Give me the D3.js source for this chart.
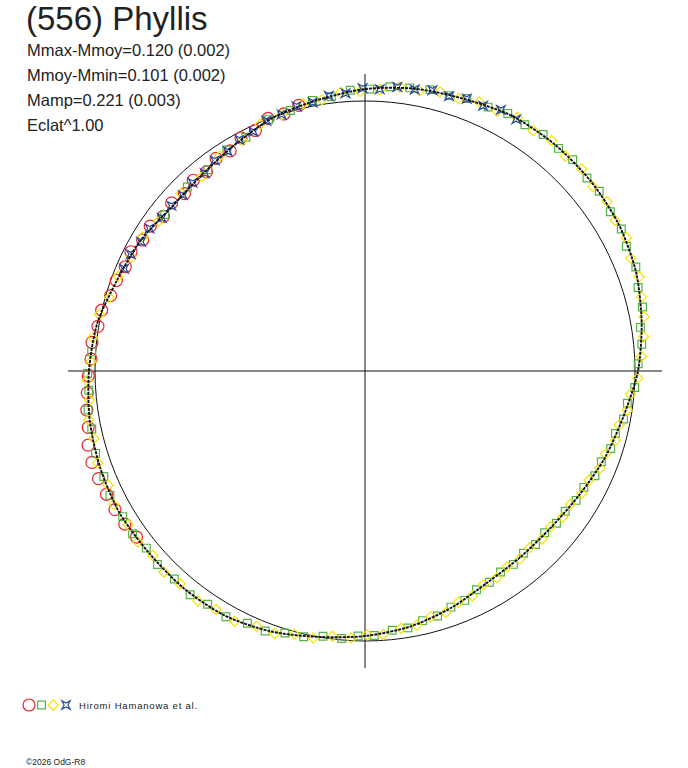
<!DOCTYPE html>
<html>
<head>
<meta charset="utf-8">
<script src="https://cdn.jsdelivr.net/npm/d3@7"></script>
<style>
  body { margin: 0; background: #fff; }
  svg { display: block; }
</style>
</head>
<body>
<svg id="drawing_region"></svg>
<script>
// texts
const titleText = "(556) Phyllis";
const infoLines = ["Mmax-Mmoy=0.120 (0.002)", "Mmoy-Mmin=0.101 (0.002)", "Mamp=0.221 (0.003)", "Eclat^1.00"];
const observerText = "Hiromi Hamanowa et al.";
const creditText = "\u00A92026 OdG-R8";

// fitted lightcurve, phase in degrees, magnitude relative to mean
const fitPhase = [0, 10, 20, 30, 40, 50, 60, 70, 80, 90, 100, 110, 120, 130, 140, 150, 160, 170,
                  180, 190, 200, 210, 220, 230, 240, 250, 260, 270, 280, 290, 300, 310, 320, 330, 340, 350];
const fitMag = [-0.012, -0.043, -0.072, -0.089, -0.096, -0.098, -0.094, -0.076, -0.065, -0.047, -0.020, 0.002,
                0.037, 0.062, 0.068, 0.042, 0.024, -0.008, -0.024, -0.038, -0.047, -0.053, -0.049, -0.051,
                -0.047, -0.028, 0.000, 0.020, 0.043, 0.075, 0.108, 0.117, 0.114, 0.094, 0.062, 0.031];

// observations [phase deg, relative mag]
const redObs = [
  [104, -0.015], [107.5, 0.002], [111, -0.002], [114.5, 0.023], [118, 0.024], [121.5, 0.049], [125, 0.043],
  [128.5, 0.064], [132, 0.055], [135.5, 0.070], [139, 0.057], [142.5, 0.066], [146, 0.045], [149.5, 0.049],
  [153, 0.030], [156.5, 0.035], [160, 0.022], [163.5, 0.019], [167, -0.001], [170.5, -0.003], [174, -0.018],
  [177.5, -0.017], [181, -0.027], [184.5, -0.034], [188, -0.043], [191.5, -0.049], [195, -0.065],
  [198.5, -0.070], [202, -0.068], [205.5, -0.064], [209, -0.062], [212.5, -0.058], [216, -0.049]
];
const greenObs = [
  [1.5, -0.013], [5.5, -0.032], [9, -0.035], [13, -0.058], [17, -0.061], [21, -0.078], [25.5, -0.076],
  [29, -0.089], [33, -0.087], [37.5, -0.097], [41, -0.093], [45.5, -0.101], [49, -0.096], [53, -0.100],
  [57, -0.091], [61, -0.094], [65, -0.082], [69.5, -0.081], [73, -0.070], [77, -0.073], [81, -0.065],
  [85, -0.060], [89, -0.047], [93, -0.044], [97, -0.025], [101, -0.022], [106, -0.004], [111, 0.003],
  [117, 0.031], [122, 0.038], [128, 0.060], [134, 0.059], [142, 0.066],
  [176, -0.016], [180.5, -0.029], [184, -0.027], [188, -0.038], [192, -0.037], [197, -0.046], [202, -0.046],
  [206, -0.054], [211, -0.050], [215, -0.054], [219, -0.045], [223, -0.054], [227.5, -0.048], [232, -0.055],
  [236, -0.045], [240.5, -0.049], [245, -0.033], [249, -0.034], [253, -0.016], [257, -0.011], [261, 0.006],
  [265, 0.006], [268.5, 0.020], [272, 0.022], [276, 0.038], [279.5, 0.039], [283, 0.057], [286.5, 0.060],
  [290, 0.078], [293.5, 0.083], [297, 0.103], [300.5, 0.105], [304, 0.117], [307.5, 0.111], [311, 0.121],
  [314.5, 0.113], [318, 0.120], [321.5, 0.107], [325, 0.108], [328.5, 0.094], [332, 0.093], [335.5, 0.072],
  [339, 0.070], [342.5, 0.051], [346, 0.049], [349.5, 0.029], [353, 0.023], [356.5, -0.001]
];
const yellowObs = [
  [3, -0.027], [7, -0.042], [11, -0.056], [15, -0.064], [19, -0.077], [23, -0.073], [27, -0.090], [31, -0.085],
  [35, -0.098], [39, -0.089], [43, -0.101], [47, -0.092], [51, -0.102], [55, -0.090], [59, -0.099], [63, -0.083],
  [67, -0.086], [71, -0.070], [75, -0.074], [79, -0.060], [83, -0.063], [87, -0.047], [91, -0.038], [95, -0.038],
  [99, -0.018], [103, -0.018], [108, 0.002], [113, 0.008], [118, 0.036], [124, 0.043], [130, 0.067], [136, 0.060],
  [144, 0.062], [149, 0.042], [154, 0.040], [159, 0.023], [164, 0.016], [168, -0.006], [173, -0.017],
  [178, -0.016], [182, -0.032], [186, -0.028], [190, -0.042], [194, -0.037], [199, -0.050], [204, -0.044],
  [208, -0.057], [213, -0.048], [217, -0.056], [221, -0.044], [225, -0.056], [229, -0.047], [234, -0.056],
  [238, -0.044], [242.5, -0.048], [247, -0.029], [251, -0.030], [255, -0.010], [259, -0.008], [263, 0.011],
  [267, 0.010], [270.5, 0.025], [274, 0.024], [278, 0.042], [281.5, 0.043], [285, 0.064], [288.5, 0.064],
  [292, 0.086], [295.5, 0.087], [299, 0.109], [302.5, 0.105], [306, 0.119], [309.5, 0.112], [313, 0.121],
  [316.5, 0.109], [320, 0.118], [323.5, 0.102], [327, 0.106], [330.5, 0.088], [334, 0.087], [337.5, 0.065],
  [341, 0.064], [344.5, 0.042], [348, 0.042], [351.5, 0.020], [355, 0.014], [358.5, -0.011]
];
const blueObs = [
  [59, -0.091], [62.5, -0.094], [66, -0.079], [69.5, -0.080], [73, -0.068], [76.5, -0.073], [80, -0.062],
  [83.5, -0.062], [87, -0.048], [90.5, -0.050], [94, -0.033], [97.5, -0.030], [101, -0.014], [104.5, -0.014],
  [108, 0.001], [111.5, 0.004], [115, 0.024], [118.5, 0.028], [122, 0.045], [125.5, 0.047], [129, 0.064],
  [132.5, 0.061], [136, 0.070], [139.5, 0.064], [143, 0.064], [146.5, 0.048], [150, 0.047], [153.5, 0.034],
  [157, 0.034]
];

class PolarLightCurve {

  constructor(config) {
    this.config = {
      parent: config.parent,
      width: config.width || 688,
      height: config.height || 768,
      cx: config.cx,
      cy: config.cy,
      radius: config.radius
    };
    this.init();
  }

  init() {
    let self = this;

    self.svg = d3.select(self.config.parent)
      .attr('width', self.config.width)
      .attr('height', self.config.height);

    self.chart = self.svg.append('g')
      .attr('transform', `translate(${self.config.cx}, ${self.config.cy})`);

    // phase (deg) -> angle (rad), counter-clockwise from the right
    self.angle = d3.scaleLinear().domain([0, 360]).range([0, 2 * Math.PI]);
    // relative flux -> radius, the mean brightness lies on the reference circle
    self.rscale = d3.scaleLinear().domain([0, 1]).range([0, self.config.radius]);
    self.flux = m => Math.pow(10, -0.4 * m);

    self.px = (p, m) => self.rscale(self.flux(m)) * Math.cos(self.angle(p));
    self.py = (p, m) => -self.rscale(self.flux(m)) * Math.sin(self.angle(p));
  }

  render() {
    let self = this;
    const axisLen = self.rscale(1.1);

    // axes
    self.chart.append('line')
      .attr('x1', -axisLen).attr('x2', axisLen).attr('y1', 0).attr('y2', 0)
      .attr('stroke', '#111').attr('stroke-width', 1);
    self.chart.append('line')
      .attr('x1', 0).attr('x2', 0).attr('y1', -axisLen).attr('y2', axisLen)
      .attr('stroke', '#111').attr('stroke-width', 1);

    // reference circle (mean magnitude)
    self.chart.append('circle')
      .attr('r', self.rscale(1))
      .attr('fill', 'none')
      .attr('stroke', '#111')
      .attr('stroke-width', 1);

    const star = s => {
      const p = d3.path();
      p.moveTo(-s, -s); p.lineTo(0, -s * 0.45); p.lineTo(s, -s); p.lineTo(s * 0.45, 0);
      p.lineTo(s, s); p.lineTo(0, s * 0.45); p.lineTo(-s, s); p.lineTo(-s * 0.45, 0);
      p.closePath();
      return p.toString();
    };

    const series = [
      { data: redObs, color: '#e8262e', shape: d3.symbol(d3.symbolCircle, 113)(), rot: 0 },
      { data: greenObs, color: '#55b444', shape: d3.symbol(d3.symbolSquare, 60)(), rot: 0 },
      { data: yellowObs, color: '#f5e400', shape: d3.symbol(d3.symbolSquare, 52)(), rot: 45 },
      { data: blueObs, color: '#2a48a0', shape: star(4.2), rot: 0 }
    ];

    series.forEach(s => {
      self.chart.append('g')
        .selectAll('path')
        .data(s.data)
        .enter()
        .append('path')
        .attr('d', s.shape)
        .attr('transform', d => `translate(${self.px(d[0], d[1])},${self.py(d[0], d[1])}) rotate(${s.rot})`)
        .attr('fill', 'none')
        .attr('stroke', s.color)
        .attr('stroke-width', 1.2);
    });

    // fitted curve
    const fit = fitPhase.map((p, i) => [p, fitMag[i]]);
    const line = d3.lineRadial()
      .angle(d => Math.PI / 2 - self.angle(d[0]))
      .radius(d => self.rscale(self.flux(d[1])))
      .curve(d3.curveCardinalClosed.tension(0.2));
    self.chart.append('path')
      .datum(fit)
      .attr('d', line)
      .attr('fill', 'none')
      .attr('stroke', '#111')
      .attr('stroke-width', 1.9)
      .attr('stroke-dasharray', '3,1');

    // texts
    const font = '"Liberation Sans", Arial, sans-serif';
    self.svg.append('text')
      .attr('x', 26).attr('y', 29.5)
      .attr('font-family', font).attr('font-size', 33)
      .attr('fill', '#222')
      .text(titleText);

    self.svg.selectAll('.info')
      .data(infoLines)
      .enter()
      .append('text')
      .attr('class', 'info')
      .attr('x', 27)
      .attr('y', (d, i) => 56 + i * 25)
      .attr('font-family', font).attr('font-size', 16.5)
      .attr('fill', '#222')
      .text(d => d);

    // legend
    const legend = self.svg.append('g').attr('transform', 'translate(0, 705)');
    const legendX = [29, 41.5, 53.3, 66];
    series.forEach((s, i) => {
      legend.append('path')
        .attr('d', s.shape)
        .attr('transform', `translate(${legendX[i]},0) rotate(${s.rot})`)
        .attr('fill', 'none')
        .attr('stroke', s.color)
        .attr('stroke-width', 1.2);
    });
    legend.append('text')
      .attr('x', 79).attr('y', 3.8)
      .attr('font-family', font).attr('font-size', 9.5)
      .attr('letter-spacing', 0.8)
      .attr('fill', '#222')
      .text(observerText);

    self.svg.append('text')
      .attr('x', 26).attr('y', 765)
      .attr('font-family', font).attr('font-size', 8.5)
      .attr('fill', '#222')
      .text(creditText);
  }
}

const plot = new PolarLightCurve({
  parent: '#drawing_region',
  width: 688,
  height: 768,
  cx: 365,
  cy: 371,
  radius: 270
});
plot.render();
</script>
</body>
</html>
